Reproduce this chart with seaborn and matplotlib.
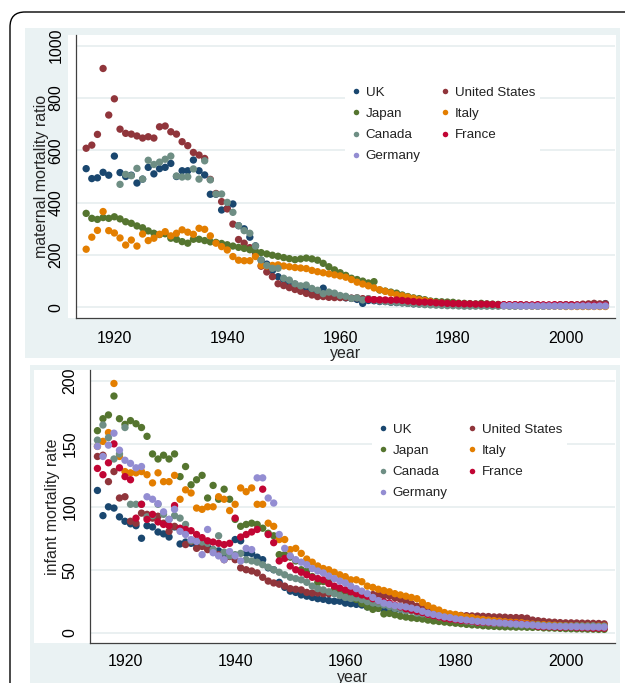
import numpy as np
import pandas as pd
import matplotlib
matplotlib.use('Agg')
import matplotlib.pyplot as plt
from matplotlib.patches import Rectangle, FancyBboxPatch
from matplotlib.transforms import Affine2D
import seaborn as sns

# ---------- data ----------
years = list(range(1915, 2008))
countries = ['UK', 'United States', 'Japan', 'Italy', 'Canada', 'France', 'Germany']
colors = ['#1A476F', '#90353B', '#55752F', '#E37E00', '#6E8E84', '#C10534', '#938DD2']
nan = np.nan

# maternal mortality ratio, 1915-2007
mmr_uk = [530, 492, 495, 516, 505, 578, 515, 500, 505, 475,
          490, 535, 510, 530, 535, 550, 500, 522, 522, 563,
          522, 506, 432, 432, 372, 378, 395, 312, 300, 268,
          235, 180, 165, 140, 117, 105, 95, 88, 78, 72,
          65, 60, 73, 48, 44, 40, 36, 34, 30, 15,
          26, 25, 22, 22, 19, 18, 17, 15, 13, 13,
          12, 13, 12, 11, 12, 11, 10, 9, 9, 9,
          8, 8, 7, 7, 8, 8, 7, 7, 7, 7,
          7, 7, 6, 7, 7, 7, 7, 7, 8, 8,
          8, 9, 14]
mmr_us = [608, 620, 661, 913, 735, 797, 681, 665, 662, 655,
          647, 652, 647, 690, 693, 671, 662, 633, 618, 592,
          582, 569, 489, 435, 404, 376, 318, 259, 245, 228,
          207, 157, 135, 117, 90, 83, 75, 68, 61, 53,
          47, 41, 41, 38, 37, 37, 37, 35, 36, 33,
          32, 29, 28, 25, 22, 22, 19, 19, 15, 15,
          13, 12, 11, 10, 10, 9, 9, 8, 8, 8,
          8, 7, 7, 8, 8, 8, 8, 8, 8, 8,
          7, 8, 8, 7, 10, 10, 10, 9, 12, 13,
          15, 13, 13]
mmr_japan = [359, 340, 336, 343, 340, 346, 338, 327, 321, 311,
             304, 292, 283, 278, 281, 264, 260, 251, 245, 260,
             260, 255, 250, 248, 244, 239, 234, 229, 225, 220,
             214, 209, 204, 199, 195, 190, 186, 182, 185, 188,
             185, 180, 168, 155, 143, 132, 122, 111, 106, 100,
             93, 98, 66, 62, 58, 54, 47, 41, 36, 33,
             29, 24, 22, 21, 20, 19, 16, 15, 14, 13,
             15, 13, 12, 11, 9, 8, 9, 9, 8, 6,
             7, 6, 6, 7, 6, 6, 6, 7, 6, 4,
             6, 5, 5]
mmr_italy = [222, 268, 294, 366, 293, 284, 265, 238, 257, 234,
             280, 255, 264, 279, 289, 273, 283, 296, 287, 279,
             302, 298, 273, 245, 232, 219, 194, 180, 178, 178,
             194, 160, 158, 160, 162, 158, 155, 152, 150, 148,
             141, 136, 132, 128, 124, 120, 115, 106, 96, 89,
             82, 74, 67, 61, 55, 48, 44, 39, 34, 29,
             26, 22, 17, 15, 13, 12, 12, 11, 10, 10,
             8, 7, 7, 6, 6, 5, 5, 5, 5, 4,
             4, 4, 4, 4, 4, 3, 3, 3, 3, 3,
             3, 3, 3]
mmr_canada = [nan, nan, nan, nan, nan, nan, 470, 508, 503, 531,
              490, 562, 546, 555, 566, 578, 502, 498, 499, 529,
              490, 560, 487, 433, 433, 401, 363, 312, 293, 283,
              234, 181, 160, 149, 149, 111, 104, 90, 82, 85,
              72, 65, 52, 58, 54, 45, 42, 34, 36, 28,
              33, 28, 24, 22, 20, 19, 17, 15, 14, 12,
              10, 9, 8, 7, 6, 6, 5, 4, 4, 4,
              4, 4, 4, 4, 5, 4, 4, 4, 5, 5,
              4, 4, 5, 5, 5, 5, 6, 6, 6, 6,
              7, 7, 7]
mmr_france = [nan] * 50 + [
              30, 29, 28, 28, 27, 28, 26, 24, 22, 20,
              20, 19, 17, 16, 15, 14, 14, 13, 13, 12,
              12, 12, 11, 10, 10, 10, 10, 10, 9, 9,
              10, 9, 9, 10, 9, 9, 9, 9, 8, 8,
              8, 8, 8]
mmr_germany = [nan] * 74 + [
               6, 6, 6, 5, 5, 5, 5, 5, 5, 5,
               5, 5, 4, 5, 5, 5, 4, 5, 5]

# infant mortality rate, 1915-2007
imr_uk = [113, 93, 100, 99, 92, 88.5, 86.5, 85, 75, 85,
          84, 80, 78.5, 76, 84, 70.5, 72, 71, 70, 69,
          68, 66, 65, 62, 61, 74, 73, 63, 63, 60,
          58, 51.5, 50, 40, 36, 33, 32, 30, 29, 28,
          27, 26.5, 25.5, 25, 25, 23.5, 23, 22.5, 22, 20.5,
          19.5, 19.5, 18.5, 18.5, 18.5, 18.5, 17.5, 17.5, 17, 16.5,
          16, 14.5, 14, 13.5, 13, 12, 11, 11, 10, 9.5,
          9.5, 9.5, 9, 9, 8.5, 8, 7.5, 6.5, 6.5, 6.5,
          6.3, 6.2, 6, 5.8, 5.9, 5.6, 5.5, 5.3, 5.3, 5.1,
          5.1, 5.0, 4.8]
imr_us = [140, 141, 120, 128, 107, 108, 88.5, 87, 95, 94,
          91, 92.5, 87, 80.5, 84.5, 82, 70, 72.5, 67, 68.5,
          66, 64.5, 62, 58, 60.5, 58, 51.5, 50, 49, 47.5,
          44, 41, 39.5, 38.5, 37, 35, 34.5, 34, 32, 31.5,
          31.5, 31, 31, 31.5, 31, 30.5, 31, 31.5, 31, 30.5,
          30.3, 30, 29.5, 29, 27.7, 26.5, 25, 23, 21, 19.5,
          18, 16.5, 15.8, 15, 14.2, 14, 13.7, 13.5, 13.3, 13.2,
          13, 12.8, 12.5, 12.5, 12.3, 12, 12, 11.9, 11.5, 10,
          9.5, 9, 8.5, 8.3, 8, 7.8, 7.8, 7.7, 7.6, 7.5,
          7.4, 7.3, 7.0]
imr_japan = [160.5, 170, 173, 188, 170, 165.5, 168.5, 166, 163, 156,
             142, 138, 141, 138, 142, 124, 132, 117.5, 121.5, 125,
             107, 117, 106, 114, 106, 90, 84.5, 86, 87, 86,
             83, 79, 77, 62, 62, 60, 57, 50, 48.9, 44.6,
             39.8, 40.6, 40, 34.5, 33.7, 30.7, 28.6, 26.4, 23.2, 20.4,
             18.5, 19.3, 14.9, 15.3, 14.2, 13.1, 12.4, 11.7, 11.3, 10.8,
             10.0, 9.3, 8.9, 8.4, 7.9, 7.5, 7.1, 6.6, 6.2, 6.0,
             5.5, 5.2, 5.0, 4.8, 4.6, 4.6, 4.4, 4.5, 4.3, 4.2,
             4.3, 3.8, 3.7, 3.6, 3.4, 3.2, 3.1, 3.0, 3.0, 2.8,
             2.8, 2.6, 2.6]
imr_italy = [148, 152, 159, 198, 140, 128, 127, 127, 128, 125.5,
             119, 127, 120, 120, 125, 106, 113.5, 111, 99, 98,
             100, 100, 108, 106, 97, 102, 115, 112, 115, 102,
             102, 87, 84.5, 74, 74, 66, 67, 63, 58.5, 56,
             53, 51, 50, 48, 46, 44.5, 42, 42, 40.5, 37,
             36, 34.5, 33.5, 32.5, 31, 30, 29, 28, 27, 24,
             21.5, 19.5, 18, 16, 15, 14.5, 13.5, 12.5, 12, 11,
             10.5, 10, 9.6, 9.2, 8.7, 8.3, 8.1, 7.9, 7.3, 6.8,
             6.5, 6.3, 6.1, 5.9, 5.7, 5.5, 5.4, 5.3, 5.2, 5.2,
             5.2, 5.2, 5.2]
imr_canada = [153, 165, 155, 138, 142, 163, 102, 102, 102, 92,
              93, 102, 94, 90, 93, 91, 86, 73, 73, 72,
              71, 66, 77, 64, 61, 62, 63, 58, 57, 56,
              54, 52, 50, 48, 46, 44, 43, 42, 40, 37,
              35, 34, 32.5, 31, 29.5, 28, 27.2, 27.6, 26.3, 24.7,
              23.6, 23.1, 22.0, 20.8, 19.3, 18.8, 17.5, 17.1, 15.5, 15.0,
              14.3, 13.5, 12.4, 12.0, 10.9, 10.4, 9.6, 9.1, 8.5, 8.1,
              7.9, 7.9, 7.3, 7.2, 7.1, 6.8, 6.4, 6.1, 6.3, 6.3,
              6.1, 5.6, 5.5, 5.3, 5.3, 5.3, 5.2, 5.4, 5.3, 5.3,
              5.4, 5.0, 5.1]
imr_france = [130.5, 125.5, 135, 150, 131, 124, 121.5, 91, 102, 90,
              94, 88, 86, 85, 101, 83, 82, 81, 78, 75.5,
              73, 72, 71, 70, 71, 91, 76, 78, 80, 82,
              114, 78, 71.5, 57, 59, 53, 50, 48, 46, 44,
              43, 42, 39, 37, 35.5, 34, 32.5, 31, 30, 29,
              27, 25.5, 24.5, 23.5, 22, 20.5, 19, 18, 17, 16,
              14.5, 13.5, 12.5, 11.5, 10.8, 10.3, 9.7, 9.5, 9.1, 8.3,
              8.3, 8.0, 7.8, 7.8, 7.5, 7.3, 7.3, 6.8, 6.5, 5.9,
              4.9, 4.8, 4.7, 4.6, 4.3, 4.4, 4.5, 4.1, 4.0, 3.9,
              3.6, 3.6, 3.6]
imr_germany = [148, 140, 149, 158.5, 145, 137, 134.5, 131, 132, 108,
               106, 102.5, 96, 90, 98, 80.5, 78, 74, 72.5, 62,
               82, 63.5, 61, 58, 64.5, 61, 57, 67, 66, 123,
               123, 107, 103, 78, 67, 61, 58, 56, 54, 51,
               49, 47.5, 45, 43, 41, 39.5, 37, 35, 33, 31,
               28, 25.5, 23.5, 22.5, 21.5, 21, 20.5, 19.5, 18.5, 17,
               15.5, 14.5, 13.5, 12.5, 12, 11, 10.5, 10, 9.5, 9,
               8.7, 8.4, 8, 7.8, 7.5, 7.1, 6.9, 6.6, 6.3, 6.0,
               5.6, 5.3, 5.1, 5.0, 4.9, 4.8, 4.8, 4.7, 4.6, 4.5,
               4.5, 4.4, 4.4]

maternal = [mmr_uk, mmr_us, mmr_japan, mmr_italy, mmr_canada, mmr_france, mmr_germany]
infant = [imr_uk, imr_us, imr_japan, imr_italy, imr_canada, imr_france, imr_germany]


def long_frame(series):
    frames = []
    for name, vals in zip(countries, series):
        assert len(vals) == len(years), name
        frames.append(pd.DataFrame({'year': years, 'value': vals, 'country': name}))
    return pd.concat(frames, ignore_index=True).dropna()


df_mmr = long_frame(maternal)
df_imr = long_frame(infant)

# ---------- figure ----------
sns.set_theme(style='white')
plt.rcParams['font.family'] = ['Liberation Sans', 'DejaVu Sans']

W, H = 625, 683
fig = plt.figure(figsize=(W / 100, H / 100), dpi=100)
bg = '#EAF2F3'
# pixel coordinates measured from the top-left corner
pix = Affine2D().scale(1, -1).translate(0, H)


def px_rect(x0, y0, x1, y1, color):
    fig.patches.append(Rectangle((x0, y0), x1 - x0, y1 - y0, transform=pix,
                                 facecolor=color, edgecolor='none', zorder=-2))


# stata-like graph regions
px_rect(25, 28, 620, 358, bg)
px_rect(68, 35, 616, 318, 'white')
px_rect(30, 365, 620, 690, bg)
px_rect(34, 370, 616, 643, 'white')

# outer rounded frame (runs off the right and bottom edges)
fig.patches.append(FancyBboxPatch((10, 12), 660, 730,
                                  boxstyle='round,pad=0,rounding_size=15',
                                  transform=pix, facecolor='none',
                                  edgecolor='black', lw=1.0, zorder=5))


def make_axes(x0, y0, x1, y1):
    return fig.add_axes([x0 / W, 1 - y1 / H, (x1 - x0) / W, (y1 - y0) / H])


ax1 = make_axes(76, 35, 615, 318)
ax2 = make_axes(90, 370, 615, 643)

panels = [
    (ax1, df_mmr, 'maternal mortality ratio', (1913.2, 2008.7), (-41, 1041),
     [0, 200, 400, 600, 800, 1000], (345, 81), (42 - 76) / 539, -0.124, 4.5),
    (ax2, df_imr, 'infant mortality rate', (1913.65, 2008.96), (-8.2, 208.7),
     [0, 50, 100, 150, 200], (372, 418), (53 - 90) / 525, -0.127, 3.0),
]

for ax, data, ylab, xlim, ylim, yticks, leg_xy, ylab_x, xlab_y, xpad in panels:
    ax.set_facecolor('white')
    sns.scatterplot(data=data, x='year', y='value', hue='country',
                    hue_order=countries, palette=colors, s=28, linewidth=0,
                    alpha=1, ax=ax, zorder=3)
    ax.set_xlim(*xlim)
    ax.set_ylim(*ylim)
    ax.set_xticks([1920, 1940, 1960, 1980, 2000])
    ax.set_yticks(yticks)
    ax.yaxis.grid(True, color='#E6EDEF', lw=1.2)
    ax.set_axisbelow(True)
    for side in ['top', 'right']:
        ax.spines[side].set_visible(False)
    for side in ['left', 'bottom']:
        ax.spines[side].set_color('#404040')
        ax.spines[side].set_linewidth(0.9)
    ax.tick_params(axis='both', direction='out', length=5, width=0.9,
                   color='#404040', labelsize=11.5, labelcolor='black')
    ax.tick_params(axis='x', pad=xpad)
    ax.tick_params(axis='y', labelrotation=90, pad=4)
    for lab in ax.get_yticklabels():
        lab.set_va('center')
    ax.set_xlabel('year', fontsize=11.5, va='center')
    ax.xaxis.set_label_coords(0.5, xlab_y)
    ax.set_ylabel(ylab, fontsize=11.5, va='center')
    ax.yaxis.set_label_coords(ylab_x, 0.5)

    handles, labels = ax.get_legend_handles_labels()
    order = [0, 2, 4, 6, 1, 3, 5]
    leg = ax.legend([handles[i] for i in order], [labels[i] for i in order],
                    ncol=2, loc='upper left',
                    bbox_to_anchor=(leg_xy[0] / W, 1 - leg_xy[1] / H),
                    bbox_transform=fig.transFigure, fontsize=9.6,
                    frameon=True, facecolor='white', edgecolor='none',
                    framealpha=1, fancybox=False, markerscale=0.75,
                    handlelength=0.8, handletextpad=0.35, columnspacing=1.4,
                    labelspacing=0.67, borderpad=0.4, borderaxespad=0)
    leg.set_zorder(4)
    for t in leg.get_texts():
        t.set_color('#222222')

fig.savefig('out.png', dpi=100)
